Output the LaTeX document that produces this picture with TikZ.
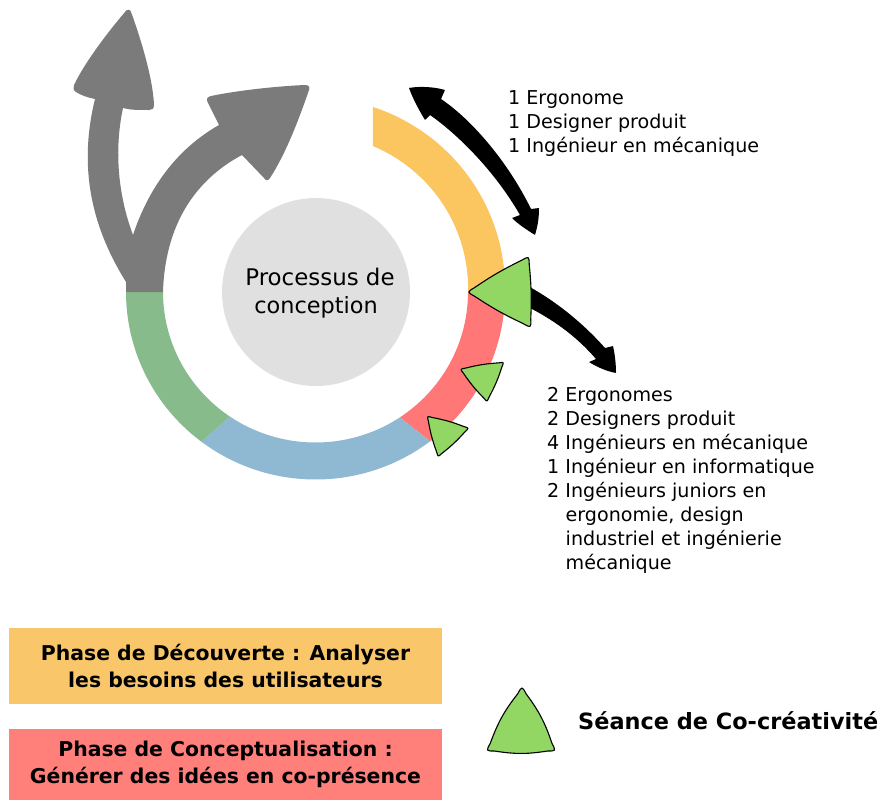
\documentclass[tikz,border=0pt]{standalone}
\usepackage{fontspec}
\setmainfont{DejaVu Sans}
\usetikzlibrary{calc}
\definecolor{cOr}{HTML}{FBC55F}
\definecolor{cRe}{HTML}{FF7777}
\definecolor{cBl}{HTML}{8FB8D2}
\definecolor{cGr}{HTML}{87BB8B}
\definecolor{cGy}{HTML}{7B7B7B}
\definecolor{cTr}{HTML}{92D664}
\definecolor{cCi}{HTML}{E0E0E0}
\definecolor{cLo}{HTML}{F9C76A}
\definecolor{cLr}{HTML}{FF7F7B}
\tikzset{
 listtext/.style={inner sep=0pt,anchor=north west,align=left,font=\fontsize{19.1}{24}\selectfont},
 legendbox/.style={inner sep=0pt,minimum width=433pt,align=center,font=\fontsize{20.4}{27}\selectfont\bfseries},
 cocre/.style={draw=black,line width=1.1pt,fill=cTr,line join=round},
}
% rounded, bulged triangle: style, bend, three corners
\newcommand{\rtri}[5]{%
 \coordinate (ta) at #3; \coordinate (tb) at #4; \coordinate (tc) at #5;
 \path[#1] ($(ta)!0.12!(tb)$) to[bend left=#2] ($(tb)!0.12!(ta)$)
  .. controls (tb) .. ($(tb)!0.12!(tc)$) to[bend left=#2] ($(tc)!0.12!(tb)$)
  .. controls (tc) .. ($(tc)!0.12!(ta)$) to[bend left=#2] ($(ta)!0.12!(tc)$)
  .. controls (ta) .. cycle;}
% colour, outer from, outer to, inner from, inner to
\newcommand{\ringseg}[5]{%
 \fill[#1] plot[domain=#2:#3,samples=60,smooth] ({315.5+189.5*cos(\x)},{292+187.5*sin(\x)})
  -- plot[domain=#5:#4,samples=60,smooth] ({315.5+152.5*cos(\x)},{292+150.5*sin(\x)}) -- cycle;}
\begin{document}
\begin{tikzpicture}[x=1pt,y=-1pt]
\useasboundingbox (0,0) rectangle (882,800);
% ring
\fill[cOr] plot[domain=0:-72.9,samples=60,smooth] ({316+(189+\x*(-0.063))*cos(\x)},{292+(189+\x*(-0.063))*sin(\x)})
  -- plot[domain=-68.7:0,samples=60,smooth] ({316+(152+\x*(-0.068))*cos(\x)},{292+(152+\x*(-0.068))*sin(\x)}) -- cycle;
\ringseg{cRe}{0}{52.8}{0}{56.4}
\ringseg{cBl}{52.8}{127}{56.4}{124.2}
\ringseg{cGr}{127}{180}{124.2}{180}
% grey arrows
\fill[cGy] (126,292) -- (126,282)
  .. controls (100,240) and (75,180) .. (95,99)
  .. controls (85,97) and (79,94) .. (76,92)
  .. controls (73,90) and (73,88) .. (74,85)
  .. controls (85,62) and (108,32) .. (125,12)
  .. controls (127,9) and (130,9) .. (131,12)
  .. controls (142,42) and (153,80) .. (154,105)
  .. controls (154,109) and (152,110) .. (149,110)
  .. controls (138,110) and (130,110) .. (123,108)
  .. controls (114,150) and (118,195) .. (133,235)
  .. controls (148,190) and (175,150) .. (219,125)
  -- (208,103)
  .. controls (206,99) and (207,97) .. (211,96)
  .. controls (240,90) and (280,86) .. (305,85)
  .. controls (309,85) and (310,87) .. (309,90)
  .. controls (298,122) and (285,155) .. (270,178)
  .. controls (268,181) and (266,181) .. (264,178)
  -- (242,155)
  .. controls (195,180) and (165,225) .. (163,292) -- cycle;
% black arrows
\fill[black,rounded corners=0.5pt] (409,88) .. controls (420,86) and (435,87) .. (445,90)
  -- (441,99)
  .. controls (472,120) and (508,162) .. (531,209)
  -- (539,208) .. controls (539,220) and (537,228) .. (535,235)
  .. controls (527,230) and (518,224) .. (512,218)
  -- (520,215)
  .. controls (494,170) and (457,134) .. (430,115)
  -- (425,120) .. controls (419,110) and (413,99) .. (409,88) -- cycle;
\fill[black,rounded corners=0.5pt] (522,283)
  .. controls (552,298) and (582,322) .. (605,348)
  -- (613,346) .. controls (615,355) and (616,365) .. (616,373)
  .. controls (606,371) and (597,367) .. (589,362)
  -- (596,359)
  .. controls (576,336) and (553,319) .. (522,304) -- cycle;
% triangles
\rtri{cocre}{4}{(467,292)}{(529,256)}{(531,328)}
\rtri{cocre}{5}{(460,369)}{(504,362)}{(487,402)}
\rtri{cocre}{5}{(427,416)}{(469,428)}{(438,457)}
\rtri{cocre}{9}{(522,686)}{(556,751)}{(486,751)}
% centre
\node[circle,fill=cCi,minimum size=188pt,inner sep=0pt] (centre) at (316,292) {};
\node[inner sep=0pt,align=center,font=\fontsize{22.9}{28}\selectfont] (title) at (316,293) {\hspace*{8pt}Processus de\\{\fontsize{22.4}{28}\selectfont conception}};
% lists
\node[listtext] (l1) at (508,90.5) {1 Ergonome\\1 Designer produit\\1 Ingénieur en mécanique};
\node[listtext] (l2) at (547,387.5) {2 Ergonomes\\2 Designers produit\\4 Ingénieurs en mécanique\\1 Ingénieur en informatique\\2 Ingénieurs juniors en\\\hspace*{18.5pt}ergonomie, design\\\hspace*{18.5pt}industriel et ingénierie\\\hspace*{18.5pt}mécanique};
% legend
\node[legendbox,fill=cLo,minimum height=76pt] (lg1) at (225.5,666) {Phase de Découverte : Analyser\\les besoins des utilisateurs};
\node[legendbox,fill=cLr,minimum height=71pt] (lg2) at (225.5,764.5) {Phase de Conceptualisation :\\Générer des idées en co-présence};
\node[inner sep=0pt,anchor=west,font=\fontsize{22.4}{24}\selectfont\bfseries] (lg3) at (578,721) {Séance de Co-créativité};
\end{tikzpicture}
\end{document}
